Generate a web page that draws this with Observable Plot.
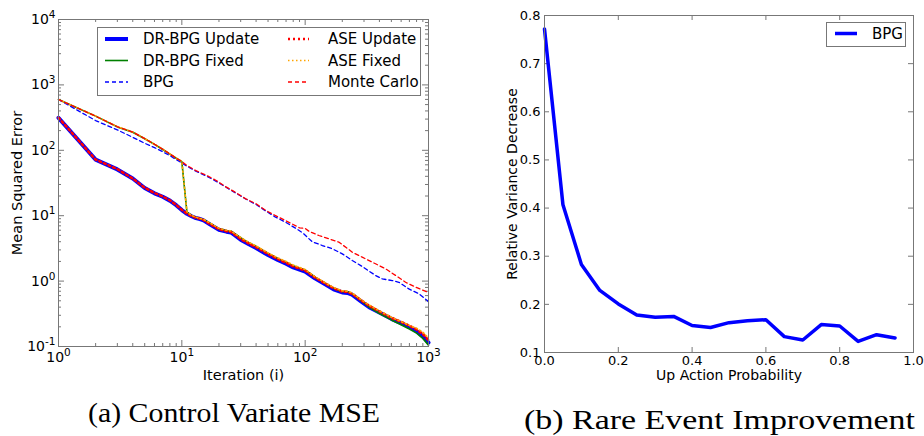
<!DOCTYPE html>
<html><head><meta charset="utf-8">
<script src="https://cdn.jsdelivr.net/npm/d3@7"></script>
<script src="https://cdn.jsdelivr.net/npm/@observablehq/plot@0.6"></script>
<style>
body{margin:0;background:#fff;}
#wrap{position:relative;width:924px;height:436px;overflow:hidden;background:#fff;font-family:"DejaVu Sans",sans-serif;}
#wrap > svg{position:absolute;top:0;}
</style></head><body><div id="wrap"></div>
<script>
// ---------- Data: (a) Control Variate MSE ----------
const iterLower = [1,2,3,4,5,6,7,8,9,10,11,12,13,14,15,17,20,23,25,27,30,35,40,50,60,70,80,100,120,150,170,200,220,240,280,330,400,500,600,700,800,900,1000];
const drbpgUpdate = [314,72,51,37,26.5,22,19.5,17,14.5,12.2,10.7,9.8,9.2,8.9,8.5,7.3,6.1,5.7,5.55,5.0,4.3,3.65,3.2,2.5,2.1,1.84,1.62,1.40,1.10,0.86,0.75,0.67,0.66,0.62,0.50,0.40,0.33,0.265,0.228,0.198,0.172,0.143,0.115];
const aseUpdate = [316,72,51.5,37,26.8,22.2,19.6,17.2,14.6,12.3,10.8,9.9,9.3,9.0,8.6,7.4,6.2,5.8,5.65,5.1,4.4,3.75,3.3,2.6,2.18,1.9,1.68,1.45,1.14,0.89,0.78,0.69,0.68,0.64,0.52,0.42,0.345,0.275,0.238,0.208,0.182,0.155,0.125];
const drbpgFixed = [598,333,228,189,150,123,103,87.5,75.7,67,11.3,10.0,9.4,9.0,8.7,7.6,6.3,5.9,5.8,5.25,4.6,3.85,3.4,2.65,2.22,1.95,1.72,1.48,1.15,0.89,0.78,0.69,0.69,0.64,0.51,0.40,0.32,0.255,0.215,0.185,0.16,0.133,0.105];
const aseFixed = [598,334,230,190,151,124,104,88,76,67.5,11.4,10.1,9.5,9.1,8.8,7.7,6.4,6.0,5.85,5.3,4.65,3.9,3.45,2.7,2.26,2.0,1.76,1.5,1.17,0.91,0.8,0.71,0.7,0.66,0.53,0.43,0.35,0.28,0.24,0.21,0.19,0.165,0.135];
const iterBpg = [1,2,3,4,5,6,7,8,9,10,11,13,16,19,23,27,33,40,48,57,69,84,95,114,138,166,200,241,290,372,422,508,575,693,836,977,1000];
const bpg = [598,285,205,158,128,110,95,83,72,64,57,48,40,33.5,27,22.5,18,14.8,11.8,9.6,8.0,6.4,5.5,4.0,3.5,3.12,2.61,2.07,1.67,1.22,1.08,1.02,0.96,0.76,0.64,0.505,0.48];
const iterMC = [1,2,3,4,5,6,7,8,9,10,11,13,16,19,23,27,33,40,48,57,69,84,90,100,107,129,156,188,241,290,372,449,541,652,786,977,1000];
const monteCarlo = [598,333,229,190,151,124,104,88,76,67.5,58.6,49,41,34.5,27.3,22.9,18.1,15.2,12.0,10.1,8.45,7.0,6.5,6.4,5.8,4.98,4.43,3.94,2.77,2.32,1.84,1.54,1.22,0.96,0.81,0.68,0.66];
const xTicksLeft = [1,10,100,1000];
const xTickLabelsLeft = ["10^0","10^1","10^2","10^3"];
const yTicksLeft = [0.1,1,10,100,1000,10000];
const yTickLabelsLeft = ["10^-1","10^0","10^1","10^2","10^3","10^4"];

// ---------- Data: (b) Rare Event Improvement ----------
const upProb = [0,0.05,0.1,0.15,0.2,0.25,0.3,0.35,0.4,0.45,0.5,0.55,0.6,0.65,0.7,0.75,0.8,0.85,0.9,0.95];
const relVarDecrease = [0.772,0.407,0.283,0.229,0.201,0.178,0.173,0.175,0.156,0.152,0.162,0.166,0.168,0.133,0.126,0.158,0.155,0.123,0.137,0.130];
const xTicksRight = [0,0.2,0.4,0.6,0.8,1.0];
const xTickLabelsRight = ["0.0","0.2","0.4","0.6","0.8","1.0"];
const yTicksRight = [0.1,0.2,0.3,0.4,0.5,0.6,0.7,0.8];
const yTickLabelsRight = ["0.1","0.2","0.3","0.4","0.5","0.6","0.7","0.8"];

const leftSeries = [
  {name:"DR-BPG Update", xs: iterLower, ys: drbpgUpdate, stroke:"#0000ff", width:4, dash:null},
  {name:"DR-BPG Fixed", xs: iterLower, ys: drbpgFixed, stroke:"#008000", width:1.6, dash:null},
  {name:"BPG", xs: iterBpg, ys: bpg, stroke:"#0000ff", width:1.3, dash:"4,3"},
  {name:"ASE Update", xs: iterLower, ys: aseUpdate, stroke:"#ff0000", width:2.5, dash:"2,3"},
  {name:"ASE Fixed", xs: iterLower, ys: aseFixed, stroke:"#ffa500", width:1.6, dash:"1.5,2.5"},
  {name:"Monte Carlo", xs: iterMC, ys: monteCarlo, stroke:"#ff0000", width:1.3, dash:"4,3"}
];

const frameColor = "#777";
function rows(xs, ys){ return xs.map((x,i)=>({x, y: ys[i]})); }
function tickMarks(xT, yT, pw, ph, len){
  return [
    Plot.ruleX(xT, {x: d=>d, insetTop: ph-len, stroke: frameColor}),
    Plot.ruleX(xT, {x: d=>d, insetBottom: ph-len, stroke: frameColor}),
    Plot.ruleY(yT, {y: d=>d, insetRight: pw-len, stroke: frameColor}),
    Plot.ruleY(yT, {y: d=>d, insetLeft: pw-len, stroke: frameColor})
  ];
}
function supify(svg){
  d3.select(svg).selectAll("text").each(function(){
    const s = this.textContent;
    if (s.includes("^")) {
      const [base, exp] = s.split("^");
      const t = d3.select(this);
      t.text(null);
      t.append("tspan").text(base);
      t.append("tspan").attr("font-size","10.5px").attr("dy","-6").text(exp);
    }
  });
}

// minor log ticks
const minorX = [], minorY = [];
for (const dec of [1,10,100]) for (let k=2;k<=9;k++) minorX.push(k*dec);
for (const dec of [0.1,1,10,100,1000]) for (let k=2;k<=9;k++) minorY.push(+(k*dec).toPrecision(3));

const L = {w:460,h:395,ml:58,mr:32,mt:19,mb:49};
const Lpw = L.w-L.ml-L.mr, Lph = L.h-L.mt-L.mb;
const mapXL = new Map(xTicksLeft.map((v,i)=>[v,xTickLabelsLeft[i]]));
const mapYL = new Map(yTicksLeft.map((v,i)=>[v,yTickLabelsLeft[i]]));

const left = Plot.plot({
  width:L.w, height:L.h, marginLeft:L.ml, marginRight:L.mr, marginTop:L.mt, marginBottom:L.mb,
  style:{fontFamily:"DejaVu Sans", fontSize:"14px", background:"transparent", color:"#000", overflow:"visible"},
  x:{type:"log", domain:[1,1000]},
  y:{type:"log", domain:[0.1,10000]},
  marks:[
    ...tickMarks(minorX, minorY, Lpw, Lph, 3),
    ...tickMarks(xTicksLeft, yTicksLeft, Lpw, Lph, 6),
    ...leftSeries.map(s => Plot.line(rows(s.xs, s.ys), {x:"x", y:"y", stroke:s.stroke, strokeWidth:s.width, strokeDasharray:s.dash ?? undefined, strokeLinejoin:"round"})),
    Plot.frame({stroke:frameColor}),
    Plot.axisX({ticks:xTicksLeft, tickFormat:d=>mapXL.get(d), tickSize:0, tickPadding:6, label:null, fontSize:14}),
    Plot.axisY({ticks:yTicksLeft, tickFormat:d=>mapYL.get(d), tickSize:0, tickPadding:3, label:null, fontSize:14}),
    Plot.text(["Iteration (i)"], {frameAnchor:"bottom", dy:29, text:d=>d, fontSize:14.5, lineAnchor:"middle", textAnchor:"middle"}),
    Plot.text(["Mean Squared Error"], {frameAnchor:"left", dx:-41, rotate:-90, text:d=>d, fontSize:14.5, textAnchor:"middle", lineAnchor:"middle"})
  ]
});
supify(left);
left.style.left = "0px";

const R = {w:464,h:395,ml:84,mr:11,mt:15,mb:43};
const Rpw = R.w-R.ml-R.mr, Rph = R.h-R.mt-R.mb;
const mapXR = new Map(xTicksRight.map((v,i)=>[v,xTickLabelsRight[i]]));
const mapYR = new Map(yTicksRight.map((v,i)=>[v,yTickLabelsRight[i]]));
const right = Plot.plot({
  width:R.w, height:R.h, marginLeft:R.ml, marginRight:R.mr, marginTop:R.mt, marginBottom:R.mb,
  style:{fontFamily:"DejaVu Sans", fontSize:"13px", background:"transparent", color:"#000", overflow:"visible"},
  x:{domain:[0,1]},
  y:{domain:[0.1,0.8]},
  marks:[
    ...tickMarks(xTicksRight, yTicksRight, Rpw, Rph, 5),
    Plot.line(rows(upProb, relVarDecrease), {x:"x", y:"y", stroke:"#0000ff", strokeWidth:3.5, strokeLinejoin:"round"}),
    Plot.frame({stroke:frameColor}),
    Plot.axisX({ticks:xTicksRight, tickFormat:d=>mapXR.get(d), tickSize:0, tickPadding:3, label:null, fontSize:13}),
    Plot.axisY({ticks:yTicksRight, tickFormat:d=>mapYR.get(d), tickSize:0, tickPadding:4, label:null, fontSize:13}),
    Plot.text(["Up Action Probability"], {frameAnchor:"bottom", dy:23, text:d=>d, fontSize:14, lineAnchor:"middle", textAnchor:"middle"}),
    Plot.text(["Relative Variance Decrease"], {frameAnchor:"left", dx:-32, rotate:-90, text:d=>d, fontSize:14, textAnchor:"middle", lineAnchor:"middle"})
  ]
});
right.style.left = "460px";

const wrap = document.getElementById("wrap");
wrap.appendChild(left);
wrap.appendChild(right);

// overlay: legends and captions
const ov = d3.select(wrap).append("svg").attr("width",924).attr("height",436).style("left","0px").style("pointer-events","none");
// left legend
ov.append("rect").attr("x",97.5).attr("y",27.5).attr("width",323).attr("height",68).attr("fill","#fff").attr("stroke",frameColor);
const legPos = [[0,0],[0,1],[0,2],[1,0],[1,1],[1,2]];
leftSeries.forEach((s,i)=>{
  const [c,r] = legPos[i];
  const y = 39 + r*21.5;
  const x0 = c===0 ? 105 : 288, x1 = c===0 ? 128 : 309, tx = c===0 ? 143 : 328;
  ov.append("line").attr("x1",x0).attr("x2",x1).attr("y1",y).attr("y2",y)
    .attr("stroke",s.stroke).attr("stroke-width",s.width).attr("stroke-dasharray",s.dash);
  ov.append("text").attr("x",tx).attr("y",y).attr("dy","0.35em").attr("font-size","15px")
    .attr("font-family","DejaVu Sans").text(s.name);
});
// right legend
ov.append("rect").attr("x",826.5).attr("y",22.5).attr("width",79).attr("height",24).attr("fill","#fff").attr("stroke",frameColor);
ov.append("line").attr("x1",835).attr("x2",857).attr("y1",33.5).attr("y2",33.5).attr("stroke","#0000ff").attr("stroke-width",3.5);
ov.append("text").attr("x",872).attr("y",33.5).attr("dy","0.35em").attr("font-size","15px").attr("font-family","DejaVu Sans").text("BPG");
// captions
ov.append("text").attr("x",88).attr("y",422).attr("font-family","Liberation Serif").attr("font-size","28px")
  .attr("textLength",292).attr("lengthAdjust","spacingAndGlyphs").text("(a) Control Variate MSE");
ov.append("text").attr("x",524).attr("y",429).attr("font-family","Liberation Serif").attr("font-size","28px")
  .attr("textLength",391).attr("lengthAdjust","spacingAndGlyphs").text("(b) Rare Event Improvement");
</script></body></html>
